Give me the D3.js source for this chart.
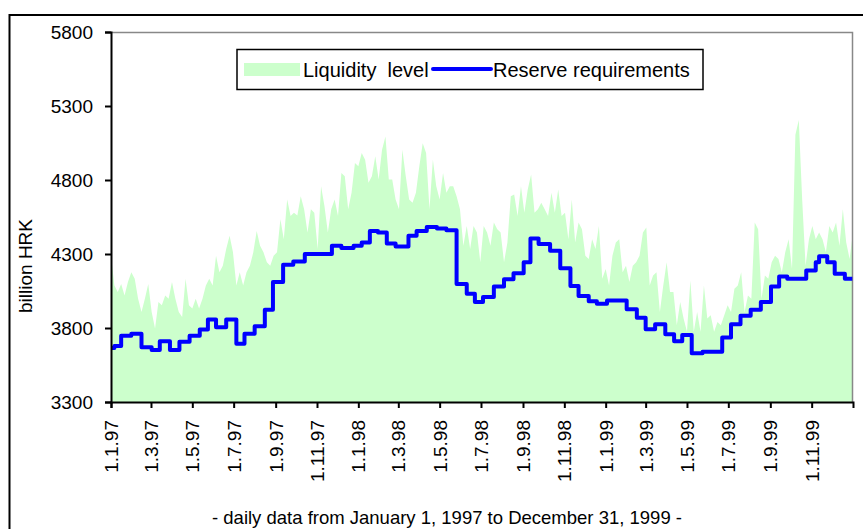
<!DOCTYPE html>
<html>
<head>
<meta charset="utf-8">
<script src="https://cdn.jsdelivr.net/npm/d3@7"></script>
<style>
  body { margin: 0; background: #fff; }
  svg { display: block; }
  svg text { font-family: "Liberation Sans", Arial, sans-serif; }
</style>
</head>
<body>
<div id="chart"></div>
<script>
// liquidity level, one reading every 5 days from 1 Jan 1997
const liquidityStart = "1997-01-01";
const liquidityStepDays = 5;
const liquidityValues = [
  4289, 4087, 4043, 4098, 4020, 4110, 4177, 4132, 3998, 3908,
  3998, 4098, 3908, 3796, 3975, 3953, 4020, 3998, 4110, 3998,
  3908, 3875, 4132, 3953, 3931, 3998, 3931, 3998, 4087, 4132,
  4087, 4289, 4177, 4221, 4333, 4423, 4311, 4087, 4177, 4087,
  4177, 4221, 4311, 4456, 4356, 4311, 4244, 4221, 4289, 4311,
  4535, 4400, 4669, 4557, 4579, 4560, 4691, 4602, 4445, 4602,
  4579, 4333, 4758, 4624, 4445, 4602, 4669, 4557, 4848, 4826,
  4602, 4714, 4915, 4893, 4982, 4937, 4781, 4826, 4960, 4803,
  5004, 5094, 4803, 4803, 4669, 4602, 5004, 4826, 4669, 4647,
  4714, 4893, 5049, 4982, 4602, 4937, 4758, 4669, 4848, 4714,
  4758, 4758, 4691, 4602, 4356, 4490, 4333, 4490, 4445, 4244,
  4490, 4445, 4356, 4512, 4468, 4445, 4244, 4378, 4691, 4702,
  4557, 4758, 4579, 4736, 4837, 4579, 4602, 4646, 4602, 4557,
  4714, 4579, 4736, 4557, 4579, 4400, 4669, 4378, 4512, 4468,
  4289, 4266, 4400, 4333, 4490, 4132, 4199, 4087, 4289, 4378,
  4400, 4177, 4221, 4110, 4221, 4244, 4289, 4445, 4479, 4087,
  4154, 4177, 3908, 4087, 4244, 4043, 4043, 3819, 3976, 3864,
  3774, 4121, 3774, 3908, 3774, 4087, 3864, 3886, 3774, 3841,
  3819, 3886, 3953, 3908, 4065, 4087, 4177, 3908, 4020, 3998,
  4512, 4468, 3998, 4154, 4132, 4244, 4289, 4266, 4177, 4311,
  4400, 4199, 5105, 5206, 4669, 4221, 4400, 4490, 4400, 4445,
  4400, 4311, 4490, 4445, 4512, 4356, 4602, 4378, 4266, 4445
];

// reserve requirements: date a new level starts, and that level
const reserveDates = [
  "1997-01-01", "1997-01-06", "1997-01-16", "1997-01-31", "1997-02-15",
  "1997-03-02", "1997-03-14", "1997-03-29", "1997-04-12", "1997-04-27",
  "1997-05-12", "1997-05-24", "1997-06-05", "1997-06-20", "1997-07-05",
  "1997-07-17", "1997-08-01", "1997-08-16", "1997-08-28", "1997-09-12",
  "1997-09-27", "1997-10-14", "1997-11-23", "1997-12-07", "1997-12-25",
  "1998-01-06", "1998-01-18", "1998-01-30", "1998-02-12", "1998-02-25",
  "1998-03-16", "1998-03-28", "1998-04-12", "1998-04-27", "1998-05-11",
  "1998-05-26", "1998-06-10", "1998-06-22", "1998-07-04", "1998-07-20",
  "1998-08-04", "1998-08-18", "1998-09-02", "1998-09-12", "1998-09-24",
  "1998-10-11", "1998-10-26", "1998-11-10", "1998-11-22", "1998-12-07",
  "1998-12-19", "1999-01-03", "1999-02-01", "1999-02-16", "1999-03-01",
  "1999-03-15", "1999-03-30", "1999-04-12", "1999-04-24", "1999-05-08",
  "1999-05-24", "1999-06-22", "1999-07-05", "1999-07-19", "1999-08-03",
  "1999-08-18", "1999-09-02", "1999-09-14", "1999-09-26", "1999-10-24",
  "1999-11-07", "1999-11-12", "1999-11-24", "1999-12-05", "1999-12-20",
  "1999-12-31"
];
const reserveValues = [
  3665, 3678, 3747, 3761, 3670, 3651, 3711, 3651, 3707, 3747,
  3790, 3857, 3805, 3857, 3694, 3761, 3812, 3924, 4110, 4228,
  4250, 4300, 4356, 4340, 4356, 4378, 4456, 4445, 4371, 4350,
  4423, 4456, 4483, 4472, 4461, 4098, 4031, 3975, 4010, 4080,
  4130, 4170, 4244, 4405, 4367, 4322, 4204, 4083, 4016, 3980,
  3964, 3985, 3926, 3870, 3792, 3826, 3758, 3710, 3752, 3630,
  3640, 3736, 3826, 3882, 3924, 3975, 4081, 4148, 4132, 4188,
  4244, 4284, 4244, 4166, 4132, 4132
];

const yTicks = [3300, 3800, 4300, 4800, 5300, 5800];
const xTickLabels = [
  "1.1.97", "1.3.97", "1.5.97", "1.7.97", "1.9.97", "1.11.97",
  "1.1.98", "1.3.98", "1.5.98", "1.7.98", "1.9.98", "1.11.98",
  "1.1.99", "1.3.99", "1.5.99", "1.7.99", "1.9.99", "1.11.99"
];
const xDomain = ["1997-01-01", "2000-01-01"];
const legendLabels = ["Liquidity  level", "Reserve requirements"];
const yLabel = "billion HRK";
const xLabel = "- daily data from January 1, 1997 to December 31, 1999 -";

const parseDate = d3.utcParse("%Y-%m-%d");
const parseTick = d3.utcParse("%d.%m.%y");

const liquidity = liquidityValues.map((v, i) => ({
  date: d3.utcDay.offset(parseDate(liquidityStart), i * liquidityStepDays),
  value: v,
}));
const reserve = reserveDates.map((d, i) => ({
  date: parseDate(d),
  value: reserveValues[i],
}));

// set the dimensions and margins of the graph
const margin = { top: 32, right: 10, bottom: 127, left: 111 },
  width = 853 - margin.left,
  height = 402 - margin.top;

const svg = d3
  .select("#chart")
  .append("svg")
  .attr("width", 863)
  .attr("height", 529);

// outer frame
svg
  .append("rect")
  .attr("x", 9.5)
  .attr("y", 15)
  .attr("width", 900)
  .attr("height", 600)
  .attr("fill", "none")
  .attr("stroke", "#000")
  .attr("stroke-width", 2);

const g = svg
  .append("g")
  .attr("transform", "translate(" + margin.left + "," + margin.top + ")");

const x = d3.scaleUtc().domain(xDomain.map(parseDate)).range([0, width]);
const y = d3.scaleLinear().domain([3300, 5800]).range([height, 0]);

// liquidity area
const area = d3
  .area()
  .x((d) => x(d.date))
  .y0(height)
  .y1((d) => y(d.value));

g.append("path")
  .datum(liquidity)
  .attr("fill", "#ccffcc")
  .attr("d", area);

// plot frame, top and right
g.append("path")
  .attr("d", `M0,0.5H${width - 0.5}V${height}`)
  .attr("fill", "none")
  .attr("stroke", "#888")
  .attr("stroke-width", 1.5);

// reserve requirements line
const line = d3
  .line()
  .x((d) => x(d.date))
  .y((d) => y(d.value))
  .curve(d3.curveStepAfter);

g.append("path")
  .datum(reserve)
  .attr("fill", "none")
  .attr("stroke", "#0000ff")
  .attr("stroke-width", 4)
  .attr("stroke-linejoin", "round")
  .attr("d", line);

// add the y Axis
const yAxis = g
  .append("g")
  .call(
    d3
      .axisLeft(y)
      .tickValues(yTicks)
      .tickFormat(d3.format("d"))
      .tickSize(6)
      .tickPadding(12)
  );
yAxis.selectAll("text").style("font-size", "19px").attr("fill", "#000");
yAxis.selectAll("path, line").attr("stroke", "#000").attr("stroke-width", 2);

// add the x Axis
const xAxis = g
  .append("g")
  .attr("transform", "translate(0," + height + ")")
  .call(
    d3
      .axisBottom(x)
      .tickValues(xTickLabels.map(parseTick))
      .tickFormat((d, i) => xTickLabels[i])
      .tickSize(6)
  );
xAxis.selectAll("path, line").attr("stroke", "#000").attr("stroke-width", 2);
xAxis
  .selectAll("text")
  .style("font-size", "19px")
  .attr("fill", "#000")
  .attr("text-anchor", "end")
  .attr("transform", "rotate(-90)")
  .attr("x", -18)
  .attr("y", 0)
  .attr("dy", "0.35em");

// add the y Axis label
svg
  .append("text")
  .attr("transform", "translate(32,266) rotate(-90)")
  .style("text-anchor", "middle")
  .style("font-size", "19px")
  .text(yLabel);

// add the x Axis label
svg
  .append("text")
  .attr("x", 447)
  .attr("y", 524)
  .style("text-anchor", "middle")
  .style("font-size", "18.5px")
  .text(xLabel);

// legend
const legend = svg.append("g");
legend
  .append("rect")
  .attr("x", 237)
  .attr("y", 49.5)
  .attr("width", 466)
  .attr("height", 40)
  .attr("fill", "#fff")
  .attr("stroke", "#000")
  .attr("stroke-width", 1.5);
legend
  .append("rect")
  .attr("x", 244)
  .attr("y", 63)
  .attr("width", 56)
  .attr("height", 13)
  .attr("fill", "#ccffcc");
legend
  .append("text")
  .attr("x", 303)
  .attr("y", 76.5)
  .style("font-size", "20px")
  .style("white-space", "pre")
  .text(legendLabels[0]);
legend
  .append("line")
  .attr("x1", 433)
  .attr("x2", 491)
  .attr("y1", 69)
  .attr("y2", 69)
  .attr("stroke", "#0000ff")
  .attr("stroke-width", 4)
  .attr("stroke-linecap", "round");
legend
  .append("text")
  .attr("x", 493)
  .attr("y", 76.5)
  .style("font-size", "20px")
  .text(legendLabels[1]);
</script>
</body>
</html>
